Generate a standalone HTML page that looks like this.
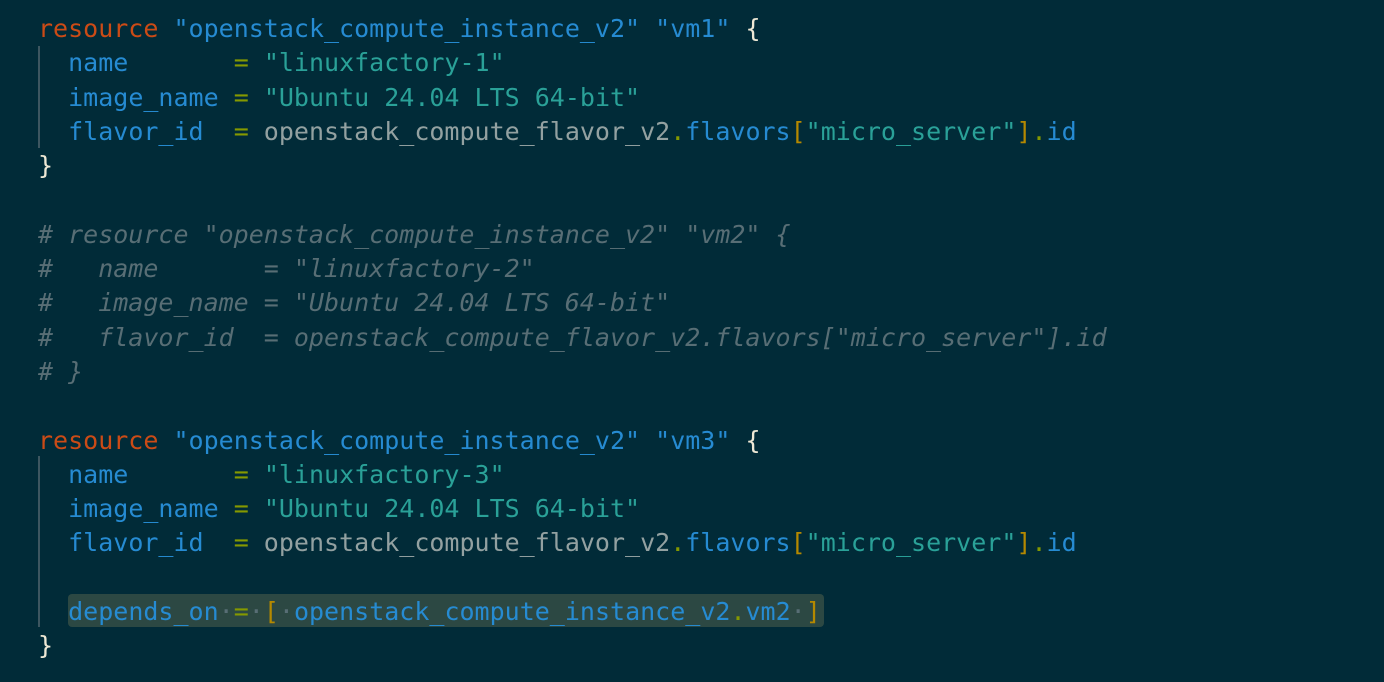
<!DOCTYPE html>
<html><head><meta charset="utf-8"><style>
html,body{margin:0;padding:0;background:#012b38;width:1384px;height:682px;overflow:hidden}
pre{position:absolute;left:38px;top:12px;margin:0;font-family:"DejaVu Sans Mono","Liberation Mono",monospace;font-size:25px;line-height:34.3px;color:#93a1a1;white-space:pre}
.k{color:#cb4b16}.s{color:#268bd2}.t{color:#2aa198}.a{color:#268bd2}.e{color:#859900}.b{color:#b58900}.w{color:#eee8d5}.c{color:#586e75;font-style:italic}.d{color:#586e75}
.g{position:absolute;left:38px;width:2px;background:#3d5660}
.hl{position:absolute;left:68px;top:594px;width:756px;height:33px;background:#2c4843;border-radius:4px}
</style></head><body>
<div class="g" style="top:46px;height:102px"></div>
<div class="g" style="top:456px;height:171px"></div>
<div class="hl"></div>
<pre><span class="k">resource</span> <span class="s">"openstack_compute_instance_v2"</span> <span class="s">"vm1"</span> <span class="w">{</span>
  <span class="a">name</span>       <span class="e">=</span> <span class="t">"linuxfactory-1"</span>
  <span class="a">image_name</span> <span class="e">=</span> <span class="t">"Ubuntu 24.04 LTS 64-bit"</span>
  <span class="a">flavor_id</span>  <span class="e">=</span> openstack_compute_flavor_v2<span class="e">.</span><span class="a">flavors</span><span class="b">[</span><span class="t">"micro_server"</span><span class="b">]</span><span class="e">.</span><span class="a">id</span>
<span class="w">}</span>

<span class="c"># resource "openstack_compute_instance_v2" "vm2" {</span>
<span class="c">#   name       = "linuxfactory-2"</span>
<span class="c">#   image_name = "Ubuntu 24.04 LTS 64-bit"</span>
<span class="c">#   flavor_id  = openstack_compute_flavor_v2.flavors["micro_server"].id</span>
<span class="c"># }</span>

<span class="k">resource</span> <span class="s">"openstack_compute_instance_v2"</span> <span class="s">"vm3"</span> <span class="w">{</span>
  <span class="a">name</span>       <span class="e">=</span> <span class="t">"linuxfactory-3"</span>
  <span class="a">image_name</span> <span class="e">=</span> <span class="t">"Ubuntu 24.04 LTS 64-bit"</span>
  <span class="a">flavor_id</span>  <span class="e">=</span> openstack_compute_flavor_v2<span class="e">.</span><span class="a">flavors</span><span class="b">[</span><span class="t">"micro_server"</span><span class="b">]</span><span class="e">.</span><span class="a">id</span>

  <span class="a">depends_on</span><span class="d">·</span><span class="e">=</span><span class="d">·</span><span class="b">[</span><span class="d">·</span><span class="a">openstack_compute_instance_v2</span><span class="e">.</span><span class="a">vm2</span><span class="d">·</span><span class="b">]</span>
<span class="w">}</span></pre>
</body></html>
